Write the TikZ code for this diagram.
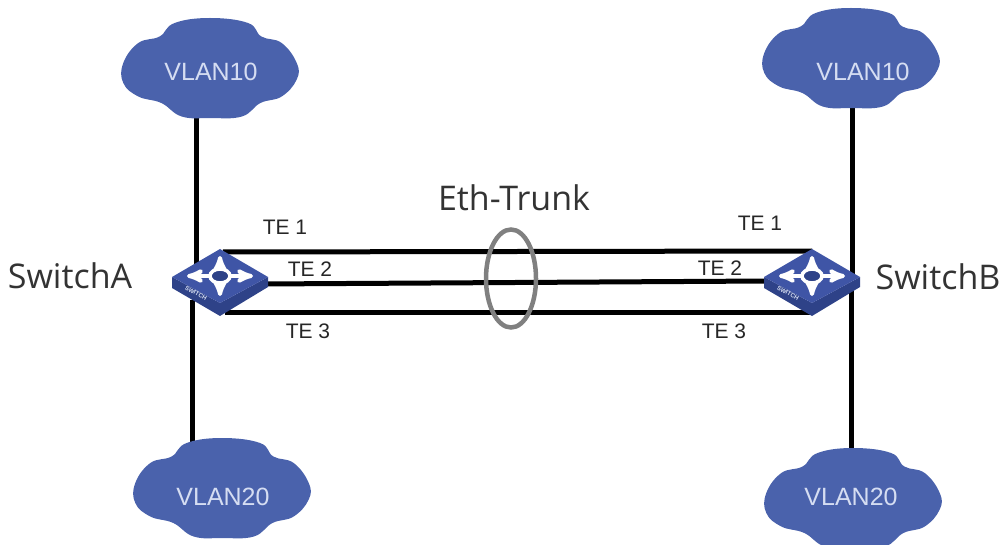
\documentclass[tikz,border=0pt]{standalone}
\usepackage{fontspec}
\setmainfont{Liberation Sans}
\newfontfamily\labelfont{Open Sans}
\usetikzlibrary{shapes,arrows,positioning}
\definecolor{cloudblue}{HTML}{4A62AC}
\definecolor{cloudtext}{HTML}{D5DDF2}
\definecolor{switchtop}{HTML}{3F55A6}
\definecolor{switchside}{HTML}{2E4288}

\tikzset{
  cloud node/.style={rectangle,minimum width=177pt,minimum height=100pt,inner sep=0pt},
  vlan node/.style={inner sep=0pt,text=cloudtext,font=\fontsize{25}{30}\selectfont},
  link/.style={line width=5pt,black},
  name node/.style={font=\labelfont\fontsize{34}{40}\selectfont,text=black!80},
  port node/.style={font=\fontsize{21}{25}\selectfont,text=black!85},
  switch node/.style={rectangle,minimum width=96pt,minimum height=66pt,inner sep=0pt},
}

% outline of a cloud around a cloud node
\newcommand{\cloudfill}[1]{
  \fill[cloudblue,shift={(#1)},x=88.5pt,y=50pt] plot[smooth cycle,tension=.7] coordinates {
    (-.55,-.7) (-.32,-.97) (0,-1) (.36,-.97) (.57,-.7) (.81,-.57) (.98,-.23) (.98,.1) (.81,.5)
    (.58,.63) (.43,.9) (0,1) (-.4,.9) (-.57,.63) (-.81,.5) (-.98,.1) (-.98,-.3) (-.81,-.57)};
}

% body and white cross of the switch icon, drawn at a switch node
\newcommand{\switchicon}[1]{
  \begin{scope}[shift={(#1)}]
    \fill[switchside] (-48,-1) -- (0,25) -- (48,-1) -- (48,9) -- (0,38) -- (-48,10) -- cycle;
    \fill[switchtop] (-48,-1) -- (0,-29) -- (48,-1) -- (0,25) -- cycle;
    \draw[white,line width=4pt,<->,>=stealth'] (-33,-2) -- (33,-2);
    \draw[white,line width=4pt,<->,>=stealth'] (0,-22) -- (0,18);
    \fill[switchside,draw=white,line width=3.5pt] (0,-2) ellipse (10 and 7);
    \node[rotate=-29,text=cloudtext,font=\fontsize{6}{7}\selectfont\bfseries,inner sep=0pt] (#1badge) at (-24,15) {SWITCH};
  \end{scope}
}

\begin{document}
\begin{tikzpicture}[x=1pt,y=-1pt]
  \useasboundingbox (0,0) rectangle (1003,545);

  \node[cloud node] (cloudA10) at (210,68) {};
  \node[cloud node] (cloudB10) at (851,58) {};
  \node[cloud node] (cloudA20) at (222,488) {};
  \node[cloud node] (cloudB20) at (853,498) {};

  \node[switch node] (SwitchA) at (220,278) {};
  \node[switch node] (SwitchB) at (812,278) {};

  \coordinate (A10) at (196,265);
  \coordinate (A20) at (192,300);
  \coordinate (B10) at (852,275);
  \coordinate (B20) at (851,290);
  \coordinate (A1) at (223,252);
  \coordinate (A2) at (262,284);
  \coordinate (A3) at (225,312);
  \coordinate (B1) at (812,251);
  \coordinate (B2) at (768,281);
  \coordinate (B3) at (812,312);

  \path[link]
  (cloudA10.center -| A10) edge (A10)
  (cloudA20.center -| A20) edge (A20)
  (cloudB10.center -| B10) edge (B10)
  (cloudB20.center -| B20) edge (B20)
  (A1) edge (B1)
  (A2) edge (B2)
  (A3) edge (B3);

  \cloudfill{cloudA10}
  \cloudfill{cloudB10}
  \cloudfill{cloudA20}
  \cloudfill{cloudB20}

  \node[vlan node] (vlanA10) at (211,72) {VLAN10};
  \node[vlan node] (vlanB10) at (863,72) {VLAN10};
  \node[vlan node] (vlanA20) at (223,497) {VLAN20};
  \node[vlan node] (vlanB20) at (851,497) {VLAN20};

  \node[draw=black!50,line width=4.5pt,ellipse,minimum width=50pt,minimum height=98pt,inner sep=0pt] (trunk) at (511,278.5) {};
  \node[name node] (ethtrunk) at (514,198) {Eth-Trunk};

  \switchicon{SwitchA}
  \switchicon{SwitchB}

  \node[name node] (nameA) at (70,276) {SwitchA};
  \node[name node] (nameB) at (938,277) {SwitchB};

  \node[port node] (te1a) at (285,227) {TE 1};
  \node[port node] (te2a) at (310,269) {TE 2};
  \node[port node] (te3a) at (308,331) {TE 3};
  \node[port node] (te1b) at (760,223) {TE 1};
  \node[port node] (te2b) at (720,268) {TE 2};
  \node[port node] (te3b) at (724,331) {TE 3};
\end{tikzpicture}
\end{document}
